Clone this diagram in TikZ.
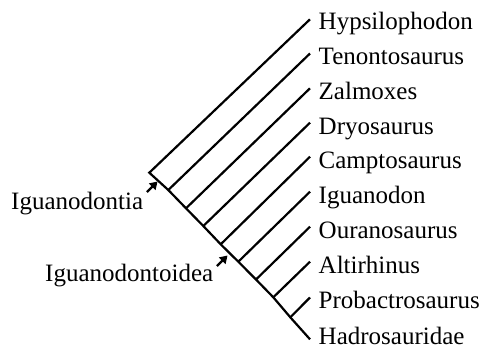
\documentclass[tikz,border=0pt]{standalone}
\usepackage{fontspec}
\setmainfont{Liberation Serif}
\usetikzlibrary{arrows.meta}
\begin{document}
\begin{tikzpicture}[x=1pt,y=-1pt,
  branch/.style={line width=2.2pt, line cap=butt, line join=miter},
  lab/.style={inner sep=0pt, anchor=base west, font=\fontsize{25}{30}\selectfont},
  pointer/.style={line width=2.4pt, -{Triangle[length=7.5pt,width=9pt]}}]
\useasboundingbox (0,0) rectangle (481,348);
% tree points
\coordinate (r)  at (149.3,172.7);
\coordinate (n1) at (168.3,190.0);
\coordinate (n2) at (186.0,208.3);
\coordinate (n3) at (203.3,226.0);
\coordinate (n4) at (220.7,244.3);
\coordinate (n5) at (238.3,261.7);
\coordinate (n6) at (256.0,279.5);
\coordinate (n7) at (273.3,297.3);
\coordinate (n8) at (290.3,317.3);
\coordinate (t0) at (310,19.3);
\coordinate (t1) at (310,53.5);
\coordinate (t2) at (310,88.3);
\coordinate (t3) at (310,122.7);
\coordinate (t4) at (310,156.7);
\coordinate (t5) at (310,191.7);
\coordinate (t6) at (310,226.7);
\coordinate (t7) at (310,261.7);
\coordinate (t8) at (310,297.5);
\coordinate (t9) at (310,339.3);
% labels
\node[lab] (L0) at (318.5,29.3)  {Hypsilophodon};
\node[lab] (L1) at (318.5,64.2)  {Tenontosaurus};
\node[lab] (L2) at (318.5,99.1)  {Zalmoxes};
\node[lab] (L3) at (318.5,134)   {Dryosaurus};
\node[lab] (L4) at (318.5,168.9) {Camptosaurus};
\node[lab] (L5) at (318.5,203.8) {Iguanodon};
\node[lab] (L6) at (318.5,238.7) {Ouranosaurus};
\node[lab] (L7) at (318.5,273.6) {Altirhinus};
\node[lab] (L8) at (318.5,308.5) {Probactrosaurus};
\node[lab] (L9) at (318.5,344.5) {Hadrosauridae};
\node[lab] (A)  at (11,209.3)    {Iguanodontia};
\node[lab] (B)  at (45,281.7)    {Iguanodontoidea};
% branches
\draw[branch] (t0) -- (r) -- (n1) -- (n2) -- (n3) -- (n4) -- (n5) -- (n6) -- (n7) -- (n8) -- (t9);
\foreach \k in {1,...,8} \draw[branch] (n\k) -- (t\k);
% pointers
\coordinate (a1) at (147,192);
\coordinate (a2) at (157.5,181.5);
\coordinate (b1) at (217,266);
\coordinate (b2) at (227.5,255.5);
\draw[pointer] (a1) -- (a2);
\draw[pointer] (b1) -- (b2);
\end{tikzpicture}
\end{document}
